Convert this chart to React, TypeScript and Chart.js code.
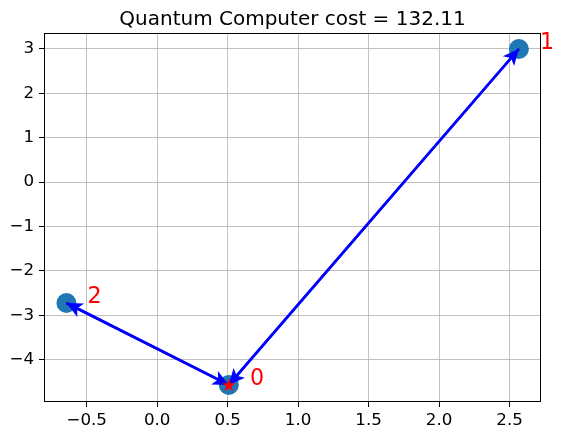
import React, { useEffect, useRef } from "react";
import { Chart, registerables } from "chart.js";

Chart.register(...registerables);

// ---- data ----
const nodeLabels = ["0", "1", "2"];
const nodeX = [0.508, 2.566, -0.644];
const nodeY = [-4.57, 3.0, -2.724];
const depotIndex = 0;
const edgeFrom = [0, 1, 0, 2];
const edgeTo = [1, 0, 2, 0];
const xTicks = [-0.5, 0.0, 0.5, 1.0, 1.5, 2.0, 2.5];
const yTicks = [-4, -3, -2, -1, 0, 1, 2, 3];
const xRange = [-0.803, 2.723];
const yRange = [-4.955, 3.36];
const titleText = "Quantum Computer cost = 132.11";
const labelOffsetX = 0.15;

const FONT = "'DejaVu Sans', sans-serif";

const fmtMinus = (s: string) => s.replace("-", "\u2212");

function makeStar(): HTMLCanvasElement {
  const c = document.createElement("canvas");
  const size = 16;
  c.width = size;
  c.height = size;
  const ctx = c.getContext("2d")!;
  const cx = size / 2;
  const cy = size / 2 + 0.5;
  const R = 7.4;
  const r = R * 0.381966;
  ctx.beginPath();
  for (let i = 0; i < 10; i++) {
    const ang = -Math.PI / 2 + (i * Math.PI) / 5;
    const rad = i % 2 === 0 ? R : r;
    const px = cx + rad * Math.cos(ang);
    const py = cy + rad * Math.sin(ang);
    if (i === 0) ctx.moveTo(px, py);
    else ctx.lineTo(px, py);
  }
  ctx.closePath();
  ctx.fillStyle = "#ff0000";
  ctx.fill();
  return c;
}

export default function App() {
  const ref = useRef<HTMLCanvasElement | null>(null);

  useEffect(() => {
    if (!ref.current) return;
    const star = makeStar();

    const nodePoints = nodeX.map((x, i) => ({ x, y: nodeY[i] }));

    const edgeDatasets = edgeFrom.map((f, i) => ({
      label: "edge" + i,
      data: [
        { x: nodeX[f], y: nodeY[f] },
        { x: nodeX[edgeTo[i]], y: nodeY[edgeTo[i]] },
      ],
      showLine: true,
      borderColor: "#0000ff",
      backgroundColor: "#0000ff",
      borderWidth: 2.6,
      pointRadius: 0,
      pointHoverRadius: 0,
      order: 2,
      isEdge: true,
    }));

    const plugin = {
      id: "extras",
      afterDatasetDraw(chart: any, args: any) {
        const ds = chart.data.datasets[args.index] as any;
        if (!ds.isEdge) return;
        const meta = args.meta;
        const a = meta.data[0];
        const b = meta.data[1];
        const ctx = chart.ctx;
        const ang = Math.atan2(b.y - a.y, b.x - a.x);
        const headLen = 16;
        const headAxis = 12;
        const halfW = 7.5;
        const cos = Math.cos(ang);
        const sin = Math.sin(ang);
        const pt = (along: number, perp: number) => [
          b.x - along * cos - perp * sin,
          b.y - along * sin + perp * cos,
        ];
        const p1 = pt(headLen, halfW);
        const p2 = pt(headAxis, 0);
        const p3 = pt(headLen, -halfW);
        ctx.save();
        ctx.beginPath();
        ctx.moveTo(b.x, b.y);
        ctx.lineTo(p1[0], p1[1]);
        ctx.lineTo(p2[0], p2[1]);
        ctx.lineTo(p3[0], p3[1]);
        ctx.closePath();
        ctx.fillStyle = "#0000ff";
        ctx.fill();
        ctx.restore();
      },
      afterDraw(chart: any) {
        const ctx = chart.ctx;
        const area = chart.chartArea;
        const xs = chart.scales.x;
        const ys = chart.scales.y;
        ctx.save();
        // frame
        ctx.strokeStyle = "#000000";
        ctx.lineWidth = 1;
        ctx.strokeRect(
          Math.round(area.left) + 0.5,
          Math.round(area.top) + 0.5,
          Math.round(area.right - area.left) - 1,
          Math.round(area.bottom - area.top) - 1
        );
        // node labels
        ctx.fillStyle = "#ff0000";
        ctx.font = `22.2px ${FONT}`;
        ctx.textAlign = "left";
        ctx.textBaseline = "alphabetic";
        nodeLabels.forEach((t, i) => {
          const px = xs.getPixelForValue(nodeX[i] + labelOffsetX);
          const py = ys.getPixelForValue(nodeY[i]);
          ctx.fillText(t, px, py + 0.5);
        });
        // title
        ctx.fillStyle = "#000000";
        ctx.font = `20px ${FONT}`;
        ctx.textAlign = "center";
        ctx.fillText(titleText, (area.left + area.right) / 2, 25);
        ctx.restore();
      },
    };

    const chart = new Chart(ref.current, {
      type: "scatter",
      data: {
        datasets: [
          {
            label: "depot",
            data: [{ x: nodeX[depotIndex], y: nodeY[depotIndex] }],
            pointStyle: star as any,
            pointRadius: 8,
            order: 1,
          } as any,
          ...edgeDatasets,
          {
            label: "nodes",
            data: nodePoints,
            backgroundColor: "#1f77b4",
            borderColor: "#1f77b4",
            borderWidth: 0,
            pointRadius: 10,
            pointHoverRadius: 10,
            order: 3,
          },
        ],
      },
      options: {
        animation: false,
        responsive: false,
        events: [],
        layout: { padding: { left: 0, top: 33, right: 21, bottom: 0 } },
        plugins: {
          legend: { display: false },
          tooltip: { enabled: false },
          title: { display: false },
        },
        scales: {
          x: {
            type: "linear",
            min: xRange[0],
            max: xRange[1],
            afterBuildTicks: (s: any) => {
              s.ticks = xTicks.map((v) => ({ value: v }));
            },
            afterFit: (s: any) => {
              s.height = 38;
            },
            grid: {
              color: "#b0b0b0",
              lineWidth: 0.8,
              tickColor: "#000000",
              tickLength: 5,
              tickWidth: 1,
              drawTicks: true,
            },
            border: { display: false },
            ticks: {
              color: "#000000",
              padding: 4,
              maxRotation: 0,
              autoSkip: false,
              font: { family: FONT, size: 16.7 },
              callback: (v: any) => fmtMinus(Number(v).toFixed(1)),
            },
          },
          y: {
            type: "linear",
            min: yRange[0],
            max: yRange[1],
            afterBuildTicks: (s: any) => {
              s.ticks = yTicks.map((v) => ({ value: v }));
            },
            afterFit: (s: any) => {
              s.width = 44;
            },
            grid: {
              color: "#b0b0b0",
              lineWidth: 0.8,
              tickColor: "#000000",
              tickLength: 5,
              tickWidth: 1,
              drawTicks: true,
            },
            border: { display: false },
            ticks: {
              color: "#000000",
              padding: 5,
              autoSkip: false,
              font: { family: FONT, size: 16.7 },
              callback: (v: any) => fmtMinus(String(Math.round(Number(v)))),
            },
          },
        },
      },
      plugins: [plugin as any],
    });

    return () => chart.destroy();
  }, []);

  return (
    <div style={{ position: "absolute", left: 0, top: 0, width: 562, height: 440, background: "#ffffff" }}>
      <canvas ref={ref} width={562} height={440} style={{ display: "block" }} />
    </div>
  );
}
